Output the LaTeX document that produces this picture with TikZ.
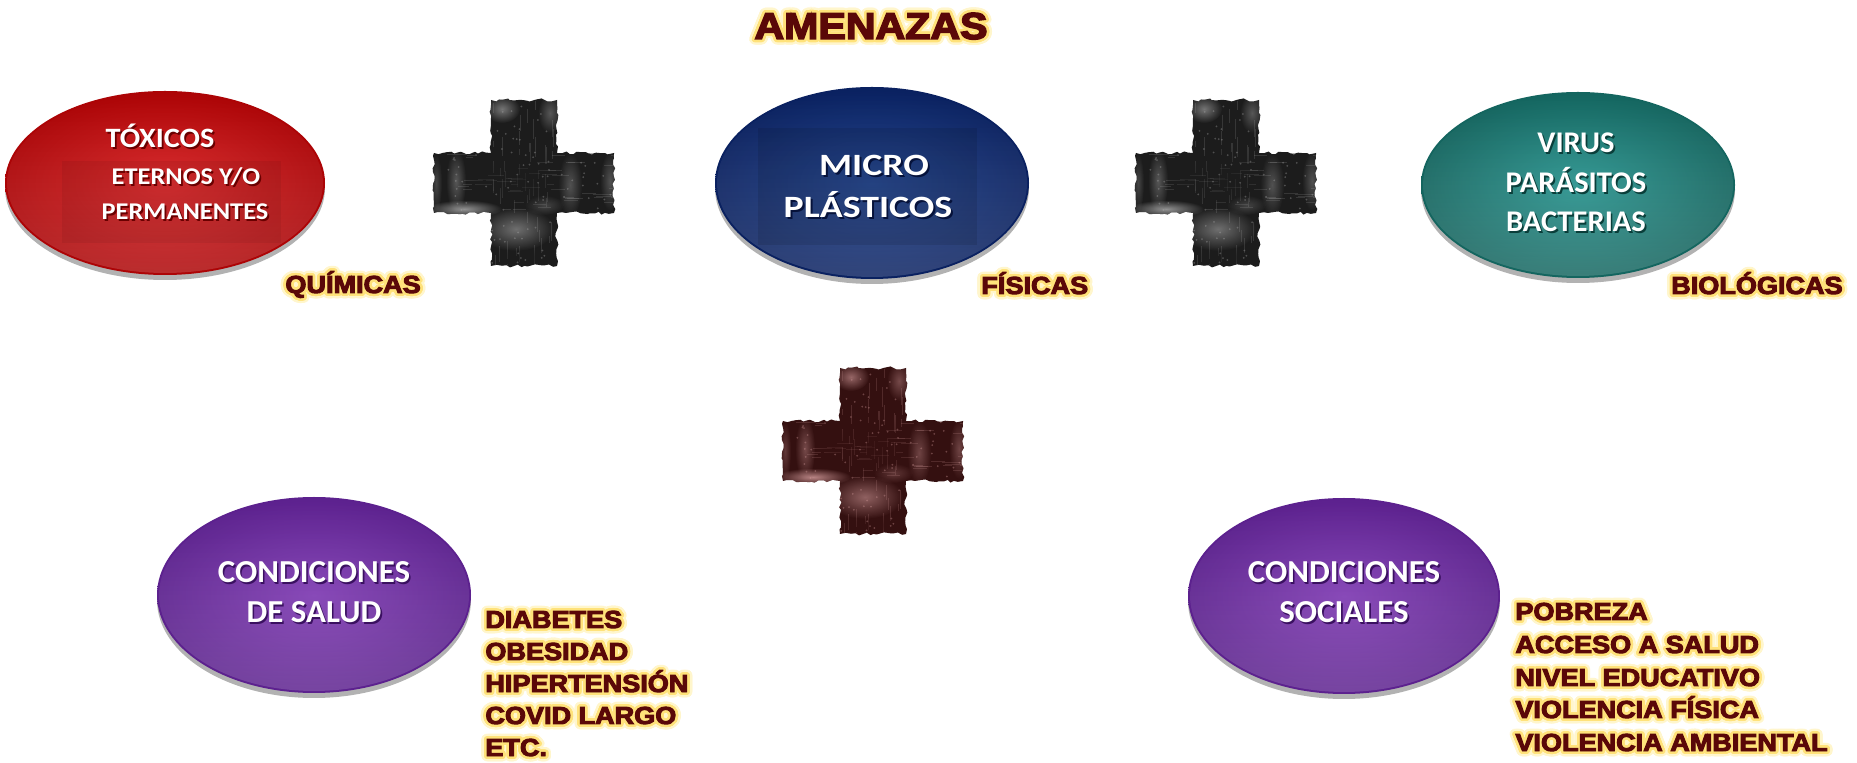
\documentclass[tikz,border=0pt]{standalone}
\usepackage{fontspec}
\usepackage{graphicx}
\usepackage{contour}
\usetikzlibrary{shapes.geometric,shadows,decorations.pathmorphing,fadings}
\setmainfont{Carlito}
\newfontfamily\heavyfont[UprightFont={* Bold}, UprightFeatures={FakeBold=4}]{Liberation Sans}
\definecolor{labelred}{HTML}{5A0808}
\definecolor{glowcol}{HTML}{FFE27A}
\definecolor{halocol}{HTML}{FFF6CC}
\definecolor{redin}{HTML}{D41C1E}
\definecolor{redout}{HTML}{AC0406}
\definecolor{reddk}{HTML}{6A0000}
\definecolor{bluein}{HTML}{163A86}
\definecolor{blueout}{HTML}{0A2160}
\definecolor{bluedk}{HTML}{06123A}
\definecolor{tealin}{HTML}{26918C}
\definecolor{tealout}{HTML}{14655F}
\definecolor{tealdk}{HTML}{0A3E3A}
\definecolor{purin}{HTML}{7E3AB2}
\definecolor{purout}{HTML}{5C218E}
\definecolor{purdk}{HTML}{3A1060}
\definecolor{crossdark}{HTML}{1C1C1C}
\definecolor{crosslight}{HTML}{B0B0B0}
\definecolor{crossmaroon}{HTML}{341010}
\definecolor{crosspink}{HTML}{D8A0A0}
\contournumber{24}
\tikzfading[name=softblob, inner color=transparent!20, outer color=transparent!100]
% glowing heavy label text: pale halo + yellow glow (contour copies)
\newcommand\gl[1]{\scalebox{1.1}[1]{\leavevmode\heavyfont\rlap{\contourlength{2.4pt}\contour{halocol}{\textcolor{halocol}{#1}}}\contourlength{1.2pt}\contour{glowcol}{#1}}}
% white text with a dark shadow
\newcommand\sw[3]{\scalebox{#1}[1]{\leavevmode\rlap{\kern0.8pt\raisebox{-0.8pt}{\textcolor{#2}{#3}}}#3}}
% rough painted cross
\newcommand\roughcross[4]{%
\begin{scope}[shift={(#1,#2)}]
\pgfmathsetseed{4711}
\begin{scope}
\path[clip,decorate,decoration={random steps,segment length=2pt,amplitude=0.8pt}]
 (-33,-83) -- (33,-83) -- (33,-30) -- (90,-30) -- (90,30) -- (33,30) -- (33,83) -- (-33,83) -- (-33,30) -- (-90,30) -- (-90,-30) -- (-33,-30) -- cycle;
\fill[#3] (-95,-90) rectangle (95,90);
\fill[#4,path fading=softblob,opacity=0.75] (-22,-74) ellipse (18 and 14);
\fill[#4,path fading=softblob,opacity=0.5] (26,-70) ellipse (12 and 20);
\fill[#4,path fading=softblob,opacity=0.5] (-68,-2) ellipse (10 and 32);
\fill[#4,path fading=softblob,opacity=1] (-60,26) ellipse (38 and 9);
\fill[#4,path fading=softblob,opacity=0.45] (46,2) ellipse (12 and 32);
\fill[#4,path fading=softblob,opacity=0.45] (86,-2) ellipse (10 and 30);
\fill[#4,path fading=softblob,opacity=0.7] (-8,46) ellipse (38 and 22);
\fill[#4,path fading=softblob,opacity=0.35] (20,22) ellipse (20 and 10);
\fill[#4,path fading=softblob,opacity=0.35] (-88,0) ellipse (6 and 30);
\foreach \i in {1,...,50}{
  \pgfmathsetmacro\xa{rand*90}\pgfmathsetmacro\ya{rand*29}\pgfmathsetmacro\ln{6+14*rnd}
  \draw[#4,opacity=0.18,line width=0.5pt] (\xa,\ya) -- ++(\ln,0);}
\foreach \i in {1,...,50}{
  \pgfmathsetmacro\xa{rand*32}\pgfmathsetmacro\ya{rand*82}\pgfmathsetmacro\ln{6+14*rnd}
  \draw[#4,opacity=0.18,line width=0.5pt] (\xa,\ya) -- ++(0,\ln);}
\fill[#3,path fading=softblob,opacity=0.9] (0,-4) ellipse (42 and 32);
\fill[#3,path fading=softblob,opacity=0.9] (0,74) ellipse (32 and 10);
\fill[#3,path fading=softblob,opacity=0.7] (-40,-5) ellipse (18 and 22);
\foreach \i in {1,...,140}{\fill[#4,opacity=0.35] ({rand*92},{rand*85}) circle (0.5pt);}
\end{scope}
\end{scope}}
\tikzset{
  ell/.style={ellipse, inner sep=0pt, draw=none,
    drop shadow={shadow xshift=0pt, shadow yshift=-2.5pt, opacity=0.3, fill=black}},
  gloss/.style={white, opacity=0.16, path fading=north},
  wt/.style={text=white, inner sep=0pt, anchor=base},
  hv/.style={text=labelred, inner sep=0pt, font=\fontsize{12.3}{16}\selectfont},
}
\begin{document}
\begin{tikzpicture}[x=0.5pt,y=-0.5pt]
\useasboundingbox (0,0) rectangle (1857,763);
\fill[white] (0,0) rectangle (1857,763);

% title
\node[hv, font=\fontsize{18.7}{22}\selectfont, anchor=base] (title) at (871,39) {\gl{AMENAZAS}};

% crosses
\roughcross{524}{183}{crossdark}{crosslight}
\roughcross{1226}{183}{crossdark}{crosslight}
\roughcross{873}{451}{crossmaroon}{crosspink}

% top ellipses
\node[ell, inner color=redin, outer color=redout, minimum width=160pt, minimum height=92pt] (tox) at (165,183) {};
\fill[gloss] (tox.center) ellipse (158 and 90);
\fill[black, opacity=0.06] (62,161) rectangle (281,243);
\node[ell, inner color=bluein, outer color=blueout, minimum width=157pt, minimum height=96pt] (mic) at (872,183) {};
\fill[gloss] (mic.center) ellipse (155 and 94);
\fill[black, opacity=0.10] (758,128) rectangle (977,245);
\node[ell, inner color=tealin, outer color=tealout, minimum width=157pt, minimum height=93pt] (bio) at (1578,185) {};
\fill[gloss] (bio.center) ellipse (155 and 91);

% bottom ellipses
\node[ell, inner color=purin, outer color=purout, minimum width=157pt, minimum height=98pt] (sal) at (314,595) {};
\fill[gloss] (sal.center) ellipse (155 and 96);
\node[ell, inner color=purin, outer color=purout, minimum width=156pt, minimum height=98pt] (soc) at (1344,596) {};
\fill[gloss] (soc.center) ellipse (154 and 96);

% ellipse texts
\node[wt, font=\bfseries\fontsize{14}{18}\selectfont] (tox-a) at (160,148) {\sw{1.08}{reddk}{TÓXICOS}};
\node[wt, font=\bfseries\fontsize{12}{16}\selectfont] (tox-b) at (186,185) {\sw{1.1}{reddk}{ETERNOS Y/O}};
\node[wt, font=\bfseries\fontsize{12}{16}\selectfont] (tox-c) at (185,220) {\sw{1.1}{reddk}{PERMANENTES}};

\node[wt, font=\bfseries\fontsize{15.5}{18}\selectfont] (mic-a) at (874,176) {\sw{1.22}{bluedk}{MICRO}};
\node[wt, font=\bfseries\fontsize{15.5}{18}\selectfont] (mic-b) at (868,218) {\sw{1.22}{bluedk}{PLÁSTICOS}};

\node[wt, font=\bfseries\fontsize{15}{18}\selectfont] (bio-a) at (1576,153) {\sw{1.02}{tealdk}{VIRUS}};
\node[wt, font=\bfseries\fontsize{15}{18}\selectfont] (bio-b) at (1576,193) {\sw{1.02}{tealdk}{PARÁSITOS}};
\node[wt, font=\bfseries\fontsize{15}{18}\selectfont] (bio-c) at (1576,232) {\sw{1.02}{tealdk}{BACTERIAS}};

\node[wt, font=\bfseries\fontsize{16}{18}\selectfont] (sal-a) at (314,583) {\sw{1.03}{purdk}{CONDICIONES}};
\node[wt, font=\bfseries\fontsize{16}{18}\selectfont] (sal-b) at (314,623) {\sw{1.03}{purdk}{DE SALUD}};
\node[wt, font=\bfseries\fontsize{16}{18}\selectfont] (soc-a) at (1344,583) {\sw{1.03}{purdk}{CONDICIONES}};
\node[wt, font=\bfseries\fontsize{16}{18}\selectfont] (soc-b) at (1344,623) {\sw{1.03}{purdk}{SOCIALES}};

% category labels
\node[hv, anchor=base west] (qui) at (285,293) {\gl{QUÍMICAS}};
\node[hv, anchor=base west] (fis) at (981,294) {\gl{FÍSICAS}};
\node[hv, anchor=base east] (bil) at (1843,294) {\gl{BIOLÓGICAS}};

% lists
\node[hv, anchor=base west] (s1) at (485,628) {\gl{DIABETES}};
\node[hv, anchor=base west] (s2) at (485,660) {\gl{OBESIDAD}};
\node[hv, anchor=base west] (s3) at (485,692) {\gl{HIPERTENSIÓN}};
\node[hv, anchor=base west] (s4) at (485,724) {\gl{COVID LARGO}};
\node[hv, anchor=base west] (s5) at (485,756) {\gl{ETC.}};

\begin{scope}[every node/.append style={font=\fontsize{12.8}{16}\selectfont}]
\node[hv, anchor=base west] (o1) at (1515,620) {\gl{POBREZA}};
\node[hv, anchor=base west] (o2) at (1515,653) {\gl{ACCESO A SALUD}};
\node[hv, anchor=base west] (o3) at (1515,686) {\gl{NIVEL EDUCATIVO}};
\node[hv, anchor=base west] (o4) at (1515,718) {\gl{VIOLENCIA FÍSICA}};
\node[hv, anchor=base west] (o5) at (1515,751) {\gl{VIOLENCIA AMBIENTAL}};
\end{scope}
\end{tikzpicture}
\end{document}
